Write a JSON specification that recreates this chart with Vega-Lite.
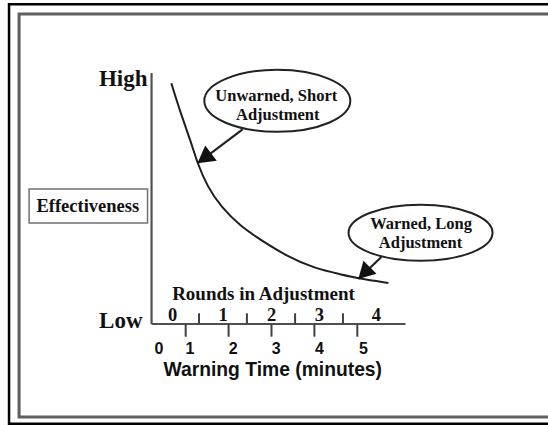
{
  "$schema": "https://vega.github.io/schema/vega-lite/v6.json",
  "width": 548,
  "height": 425,
  "autosize": {"type": "none"},
  "padding": 0,
  "background": "white",
  "config": {"view": {"stroke": null}},
  "datasets": {
    "frames": [
      {"frame": "outer", "x": -3.117, "x2": 9.772, "y": 1.2737, "y2": -0.3976},
      {"frame": "inner", "x": -2.883, "x2": 9.5146, "y": 1.2351, "y2": -0.3705},
      {"frame": "box", "x": -2.6491, "x2": 0.1111, "y": 0.5378, "y2": 0.4024}
    ],
    "axes": [
      {"axis": "y", "x": 0.2047, "x2": 0.2047, "y": 0, "y2": 1.0},
      {"axis": "x", "x": 0.2047, "x2": 6.1228, "y": 0, "y2": 0}
    ],
    "ticks": [
      {"kind": "minute", "x": 1, "y": 0, "y2": -0.0506},
      {"kind": "minute", "x": 2, "y": 0, "y2": -0.0506},
      {"kind": "minute", "x": 3, "y": 0, "y2": -0.0506},
      {"kind": "minute", "x": 4, "y": 0, "y2": -0.0506},
      {"kind": "minute", "x": 5, "y": 0, "y2": -0.0506},
      {"kind": "round", "x": 1.3111, "y": 0, "y2": 0.0426},
      {"kind": "round", "x": 2.4269, "y": 0, "y2": 0.0426},
      {"kind": "round", "x": 3.5497, "y": 0, "y2": 0.0426},
      {"kind": "round", "x": 4.6655, "y": 0, "y2": 0.0426}
    ],
    "curve": [
      {"x": 0.6655, "y": 0.9590},
      {"x": 0.8830, "y": 0.8394},
      {"x": 1.1170, "y": 0.7291},
      {"x": 1.2737, "y": 0.6402},
      {"x": 1.5076, "y": 0.5470},
      {"x": 1.8187, "y": 0.4673},
      {"x": 2.2865, "y": 0.3876},
      {"x": 2.7544, "y": 0.3347},
      {"x": 3.3789, "y": 0.2681},
      {"x": 4.0012, "y": 0.2219},
      {"x": 4.6257, "y": 0.1972},
      {"x": 5.0234, "y": 0.1813},
      {"x": 5.7252, "y": 0.1633}
    ],
    "arrows": [
      {"arrow": "unwarned", "x": 2.3263, "y": 0.7757, "x2": 1.2737, "y2": 0.6402},
      {"arrow": "warned", "x": 5.5614, "y": 0.2669, "x2": 5.0234, "y2": 0.1793}
    ],
    "bubbles": [
      {"bubble": "unwarned", "x": 3.1357, "y": 0.8892},
      {"bubble": "warned", "x": 6.4737, "y": 0.3633}
    ],
    "labels": [
      {"kind": "level", "text": "High", "x": 0.1111, "y": 0.9761},
      {"kind": "level", "text": "Low", "x": -0.0058, "y": 0.0119},
      {"kind": "ytitle", "text": "Effectiveness", "x": -1.281, "y": 0.4689},
      {"kind": "bubble", "text": "Unwarned, Short", "x": 3.112, "y": 0.9092},
      {"kind": "bubble", "text": "Adjustment", "x": 3.145, "y": 0.8339},
      {"kind": "bubble", "text": "Warned, Long", "x": 6.486, "y": 0.3997},
      {"kind": "bubble", "text": "Adjustment", "x": 6.474, "y": 0.3227},
      {"kind": "roundtitle", "text": "Rounds in Adjustment", "x": 2.8129, "y": 0.1207},
      {"kind": "round", "text": "0", "x": 0.6959, "y": 0.0378},
      {"kind": "round", "text": "1", "x": 1.8725, "y": 0.0378},
      {"kind": "round", "text": "2", "x": 3.0047, "y": 0.0378},
      {"kind": "round", "text": "3", "x": 4.1181, "y": 0.0378},
      {"kind": "round", "text": "4", "x": 5.4444, "y": 0.0378},
      {"kind": "minute", "text": "0", "x": 0.3754, "y": -0.0984},
      {"kind": "minute", "text": "1", "x": 1.1006, "y": -0.0984},
      {"kind": "minute", "text": "2", "x": 2.1064, "y": -0.0984},
      {"kind": "minute", "text": "3", "x": 3.1123, "y": -0.0984},
      {"kind": "minute", "text": "4", "x": 4.1181, "y": -0.0984},
      {"kind": "minute", "text": "5", "x": 5.1404, "y": -0.0984},
      {"kind": "xtitle", "text": "Warning Time (minutes)", "x": 3.029, "y": -0.1833}
    ]
  },
  "encoding": {
    "x": {"field": "x", "type": "quantitative", "axis": null, "scale": {"domain": [-3.3275, 9.4444], "nice": false, "zero": false}},
    "y": {"field": "y", "type": "quantitative", "axis": null, "scale": {"domain": [-0.4024, 1.2908], "nice": false, "zero": false}}
  },
  "layer": [
    {
      "data": {"name": "frames"},
      "transform": [{"filter": "datum.frame == 'outer'"}],
      "mark": {"type": "rect", "filled": false, "stroke": "#000000", "strokeWidth": 2.5},
      "encoding": {"x2": {"field": "x2"}, "y2": {"field": "y2"}}
    },
    {
      "data": {"name": "frames"},
      "transform": [{"filter": "datum.frame == 'inner'"}],
      "mark": {"type": "rect", "filled": false, "stroke": "#5e5e5e", "strokeWidth": 3},
      "encoding": {"x2": {"field": "x2"}, "y2": {"field": "y2"}}
    },
    {
      "data": {"name": "frames"},
      "transform": [{"filter": "datum.frame == 'box'"}],
      "mark": {"type": "rect", "filled": false, "stroke": "#707070", "strokeWidth": 1.5},
      "encoding": {"x2": {"field": "x2"}, "y2": {"field": "y2"}}
    },
    {
      "data": {"name": "axes"},
      "mark": {"type": "rule", "stroke": "#505050", "strokeWidth": 2.2},
      "encoding": {"x2": {"field": "x2"}, "y2": {"field": "y2"}}
    },
    {
      "data": {"name": "ticks"},
      "mark": {"type": "rule", "stroke": "#404040", "strokeWidth": 2},
      "encoding": {"y2": {"field": "y2"}}
    },
    {
      "data": {"name": "curve"},
      "mark": {"type": "line", "interpolate": "basis", "stroke": "#1e1e1e", "strokeWidth": 2},
      "encoding": {}
    },
    {
      "data": {"name": "arrows"},
      "mark": {"type": "rule", "stroke": "#222222", "strokeWidth": 2.2},
      "encoding": {"x2": {"field": "x2"}, "y2": {"field": "y2"}}
    },
    {
      "data": {"name": "bubbles"},
      "transform": [{"filter": "datum.bubble == 'unwarned'"}],
      "mark": {"type": "point", "filled": true, "fill": "white", "stroke": "#222222", "strokeWidth": 2, "opacity": 1, "size": 21316, "shape": "M-1,0A1,0.4247,0,1,1,1,0A1,0.4247,0,1,1,-1,0Z"},
      "encoding": {}
    },
    {
      "data": {"name": "bubbles"},
      "transform": [{"filter": "datum.bubble == 'warned'"}],
      "mark": {"type": "point", "filled": true, "fill": "white", "stroke": "#222222", "strokeWidth": 2, "opacity": 1, "size": 20736, "shape": "M-1,0A1,0.3889,0,1,1,1,0A1,0.3889,0,1,1,-1,0Z"},
      "encoding": {}
    },
    {
      "data": {"name": "arrows"},
      "transform": [{"filter": "datum.arrow == 'unwarned'"}],
      "mark": {"type": "point", "filled": true, "fill": "#111111", "opacity": 1, "size": 1156, "angle": 233, "shape": "M0,0L-0.56,1L0.56,1Z"},
      "encoding": {"x": {"field": "x2", "type": "quantitative"}, "y": {"field": "y2", "type": "quantitative"}}
    },
    {
      "data": {"name": "arrows"},
      "transform": [{"filter": "datum.arrow == 'warned'"}],
      "mark": {"type": "point", "filled": true, "fill": "#111111", "opacity": 1, "size": 1089, "angle": 225, "shape": "M0,0L-0.56,1L0.56,1Z"},
      "encoding": {"x": {"field": "x2", "type": "quantitative"}, "y": {"field": "y2", "type": "quantitative"}}
    },
    {
      "data": {"name": "labels"},
      "transform": [{"filter": "datum.kind == 'level'"}],
      "mark": {"type": "text", "font": "Liberation Serif", "fontWeight": "bold", "fontSize": 23, "align": "right", "baseline": "middle", "fill": "#111111"},
      "encoding": {"text": {"field": "text"}}
    },
    {
      "data": {"name": "labels"},
      "transform": [{"filter": "datum.kind == 'ytitle'"}],
      "mark": {"type": "text", "font": "Liberation Serif", "fontWeight": "bold", "fontSize": 18.5, "align": "center", "baseline": "middle", "fill": "#111111"},
      "encoding": {"text": {"field": "text"}}
    },
    {
      "data": {"name": "labels"},
      "transform": [{"filter": "datum.kind == 'bubble'"}],
      "mark": {"type": "text", "font": "Liberation Serif", "fontWeight": "bold", "fontSize": 16.5, "align": "center", "baseline": "middle", "fill": "#111111"},
      "encoding": {"text": {"field": "text"}}
    },
    {
      "data": {"name": "labels"},
      "transform": [{"filter": "datum.kind == 'roundtitle'"}],
      "mark": {"type": "text", "font": "Liberation Serif", "fontWeight": "bold", "fontSize": 19, "align": "center", "baseline": "middle", "fill": "#111111"},
      "encoding": {"text": {"field": "text"}}
    },
    {
      "data": {"name": "labels"},
      "transform": [{"filter": "datum.kind == 'round'"}],
      "mark": {"type": "text", "font": "Liberation Serif", "fontWeight": "bold", "fontSize": 18.5, "align": "center", "baseline": "middle", "fill": "#111111"},
      "encoding": {"text": {"field": "text"}}
    },
    {
      "data": {"name": "labels"},
      "transform": [{"filter": "datum.kind == 'minute'"}],
      "mark": {"type": "text", "font": "Liberation Sans", "fontWeight": "bold", "fontSize": 16, "align": "center", "baseline": "middle", "fill": "#111111"},
      "encoding": {"text": {"field": "text"}}
    },
    {
      "data": {"name": "labels"},
      "transform": [{"filter": "datum.kind == 'xtitle'"}],
      "mark": {"type": "text", "font": "Liberation Sans", "fontWeight": "bold", "fontSize": 19.3, "align": "center", "baseline": "middle", "fill": "#111111"},
      "encoding": {"text": {"field": "text"}}
    }
  ]
}
